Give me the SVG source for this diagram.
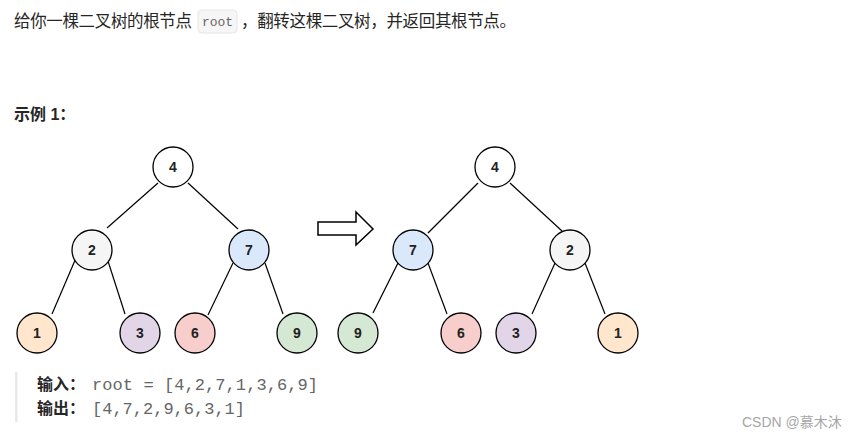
<svg xmlns="http://www.w3.org/2000/svg" width="858" height="438" viewBox="0 0 858 438">
<style>
.cjk{font-family:"Liberation Sans","Noto Sans CJK SC",sans-serif;font-size:16px;fill:#262626}
.top{font-size:16.5px}
.b{font-weight:bold}
.mono{font-family:"Liberation Mono","DejaVu Sans Mono",monospace;fill:#666}
.nd circle{stroke:#000;stroke-width:1.3}
.nd text{font-family:"Liberation Sans",Arial,sans-serif;font-size:14px;font-weight:bold;fill:#222;text-anchor:middle}
#edges line{stroke:#000;stroke-width:1.2}
</style>
<rect width="858" height="438" fill="#fff"/>
<text class="cjk top" x="14" y="27" textLength="178">给你一棵二叉树的根节点</text>
<rect x="198" y="10" width="39" height="23" rx="4" fill="#f6f6f6" stroke="#e6e6e6"/>
<text class="mono" x="217.5" y="26" font-size="13" text-anchor="middle">root</text>
<text class="cjk top" x="241" y="27" textLength="275">，翻转这棵二叉树，并返回其根节点。</text>
<text class="cjk b" x="14" y="120">示例 1：</text>

<g id="edges">
<line x1="158" y1="183" x2="107" y2="228"/>
<line x1="188" y1="183" x2="238" y2="229"/>
<line x1="76" y1="258" x2="52" y2="314"/>
<line x1="107" y1="258" x2="125" y2="314"/>
<line x1="233" y1="263" x2="208" y2="315"/>
<line x1="265" y1="263" x2="283" y2="314"/>
<line x1="478" y1="183" x2="428" y2="233"/>
<line x1="510" y1="183" x2="562" y2="231"/>
<line x1="398" y1="263" x2="373" y2="313"/>
<line x1="428" y1="263" x2="447" y2="314"/>
<line x1="555" y1="263" x2="532" y2="314"/>
<line x1="585" y1="263" x2="605" y2="314"/>
</g>

<g id="L4" class="nd"><circle cx="173" cy="167" r="20" fill="#fff"/><text x="173" y="172">4</text></g>
<g id="L2" class="nd"><circle cx="92" cy="250" r="20" fill="#f5f5f5"/><text x="92" y="255">2</text></g>
<g id="L7" class="nd"><circle cx="249" cy="250" r="20" fill="#dae8fc"/><text x="249" y="255">7</text></g>
<g id="L1" class="nd"><circle cx="37" cy="333" r="20" fill="#ffe6cc"/><text x="37" y="338">1</text></g>
<g id="L3" class="nd"><circle cx="140" cy="333" r="20" fill="#e1d5e7"/><text x="140" y="338">3</text></g>
<g id="L6" class="nd"><circle cx="195" cy="333" r="20" fill="#f8cecc"/><text x="195" y="338">6</text></g>
<g id="L9" class="nd"><circle cx="297" cy="333" r="20" fill="#d5e8d4"/><text x="297" y="338">9</text></g>

<g id="R4" class="nd"><circle cx="495" cy="167" r="20" fill="#fff"/><text x="495" y="172">4</text></g>
<g id="R7" class="nd"><circle cx="413" cy="250" r="20" fill="#dae8fc"/><text x="413" y="255">7</text></g>
<g id="R2" class="nd"><circle cx="570" cy="250" r="20" fill="#f5f5f5"/><text x="570" y="255">2</text></g>
<g id="R9" class="nd"><circle cx="358" cy="333" r="20" fill="#d5e8d4"/><text x="358" y="338">9</text></g>
<g id="R6" class="nd"><circle cx="461" cy="333" r="20" fill="#f8cecc"/><text x="461" y="338">6</text></g>
<g id="R3" class="nd"><circle cx="516" cy="333" r="20" fill="#e1d5e7"/><text x="516" y="338">3</text></g>
<g id="R1" class="nd"><circle cx="618" cy="333" r="20" fill="#ffe6cc"/><text x="618" y="338">1</text></g>

<g id="arrow"><polygon points="318,222 356,222 356,212 373,229 356,245 356,235 318,235" fill="#fff" stroke="#000" stroke-width="1.5"/></g>

<rect x="15" y="372" width="2.5" height="50" fill="#e8e8e8"/>
<text class="cjk b" x="37" y="390">输入：</text>
<text class="mono" x="92" y="390" font-size="17" textLength="226">root = [4,2,7,1,3,6,9]</text>
<text class="cjk b" x="37" y="414">输出：</text>
<text class="mono" x="92" y="414" font-size="17" textLength="153">[4,7,2,9,6,3,1]</text>
<text x="742" y="427" font-family="Liberation Sans,Noto Sans CJK SC,sans-serif" font-size="14" fill="#a6a6a6">CSDN @慕木沐</text>
</svg>
